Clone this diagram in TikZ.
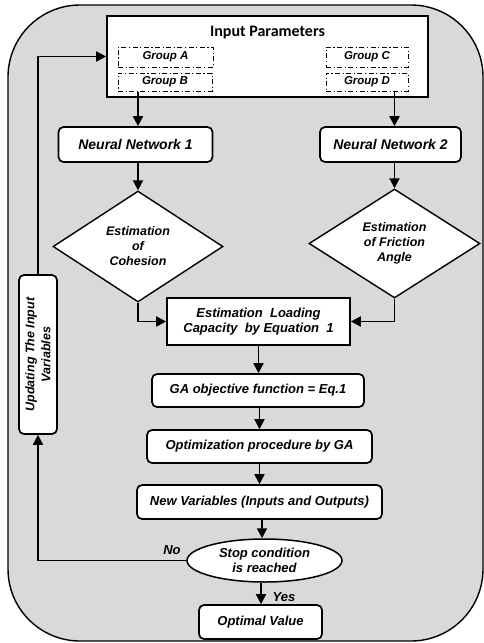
\documentclass[tikz,border=0pt]{standalone}
\usepackage{fontspec}
\setmainfont{Liberation Sans}
\newfontfamily\titlefont{Carlito}
\usetikzlibrary{shapes.geometric,arrows.meta}
\definecolor{bggray}{RGB}{217,217,217}
\begin{document}
\begin{tikzpicture}[x=1pt,y=-1pt,
  txt/.style={font=\fontsize{13}{15}\selectfont\bfseries\itshape, align=center},
  rbox/.style={txt, draw, line width=1.7pt, fill=white, rounded corners=5pt, inner sep=0pt},
  sbox/.style={txt, draw, line width=1.7pt, fill=white, inner sep=0pt},
  grp/.style={font=\fontsize{11.5}{13}\selectfont\bfseries\itshape, draw, line width=1pt,
     dash pattern=on 5pt off 2.5pt on 1.2pt off 2.5pt, inner sep=0pt},
  dia/.style={txt, font=\fontsize{12.5}{15}\selectfont\bfseries\itshape, diamond, draw, line width=1.4pt, fill=white, inner sep=0pt},
  arr/.style={line width=1.9pt, -{Triangle[length=10pt,width=10pt]}},
  ln/.style={line width=1.9pt}
]
\useasboundingbox (0,0) rectangle (484,643);
\draw[fill=bggray, line width=1.4pt, rounded corners=72pt] (8,5) rectangle (483,641);

\node[sbox, minimum width=321pt, minimum height=81pt] (inp) at (267.5,56.5) {};
\node[font=\titlefont\fontsize{16}{18}\selectfont\bfseries] (title) at (267.5,33) {Input Parameters};
\node[grp, minimum width=95pt, minimum height=20pt] (ga) at (165.5,57) {Group A};
\node[grp, minimum width=94pt, minimum height=18pt] (gb) at (165,82) {Group B};
\node[grp, minimum width=82pt, minimum height=20pt] (gc) at (367,57) {Group C};
\node[grp, minimum width=82pt, minimum height=18pt] (gd) at (367,82) {Group D};

\node[rbox, font=\fontsize{14}{16}\selectfont\bfseries\itshape, minimum width=154pt, minimum height=35pt] (nn1) at (135.5,144.5) {Neural Network 1};
\node[rbox, font=\fontsize{14}{16}\selectfont\bfseries\itshape, minimum width=141pt, minimum height=35pt] (nn2) at (390.5,144.5) {Neural Network 2};

\node[dia, minimum width=170pt, minimum height=111pt] (d1) at (138,246.5) {Estimation\\of\\Cohesion};
\node[dia, minimum width=171pt, minimum height=109pt] (d2) at (394.5,243.5) {Estimation\\of Friction\\Angle};

\node[sbox, minimum width=183pt, minimum height=47pt] (el) at (258.5,321.5) {Estimation\ \ Loading\\Capacity\ \ by Equation\ \ 1};
\node[rbox, minimum width=212pt, minimum height=33pt] (gaobj) at (258,390.5) {GA objective function = Eq.1};
\node[rbox, minimum width=225pt, minimum height=33pt] (opt) at (259.5,446.5) {Optimization procedure by GA};
\node[rbox, minimum width=245pt, minimum height=34pt] (nv) at (259.5,502) {New Variables (Inputs and Outputs)};
\node[txt, ellipse, draw, line width=1.5pt, fill=white, inner sep=0pt, minimum width=155pt, minimum height=43pt] (stop) at (264.5,560.5) {Stop condition\\is reached};
\node[rbox, minimum width=123pt, minimum height=34pt] (optv) at (260.5,622) {Optimal Value};

\node[rbox, font=\fontsize{12.5}{16}\selectfont\bfseries\itshape, rotate=90, minimum width=159pt, minimum height=38pt] (upd) at (38,354.5) {Updating The Input\\Variables};

\node[txt] (no) at (172,550) {No};
\node[txt] (yes) at (284,597) {Yes};

\draw[arr] (gb.south -| d1.north) -- (nn1.north -| d1.north);
\draw[arr] (gd.south -| d2.north) -- (nn2.north -| d2.north);
\draw[arr] (nn1.south -| d1.north) -- (d1.north);
\draw[arr] (nn2.south -| d2.north) -- (d2.north);
\draw[arr] (d1.south) |- (el.west);
\draw[arr] (d2.south) |- (el.east);
\draw[arr] (el.south) -- (el.south |- gaobj.north);
\draw[arr] (gaobj.south -| opt.center) -- (opt.north);
\draw[arr] (opt.south) -- (opt.south |- nv.north);
\draw[arr] (nv.south -| 262,0) -- (stop.north -| 262,0);
\draw[arr] (stop.south -| 261,0) -- (optv.north -| 261,0);
\draw[arr] (stop.west) -| (upd.west);
\draw[arr] (upd.east) |- (inp.west);
\end{tikzpicture}
\end{document}
